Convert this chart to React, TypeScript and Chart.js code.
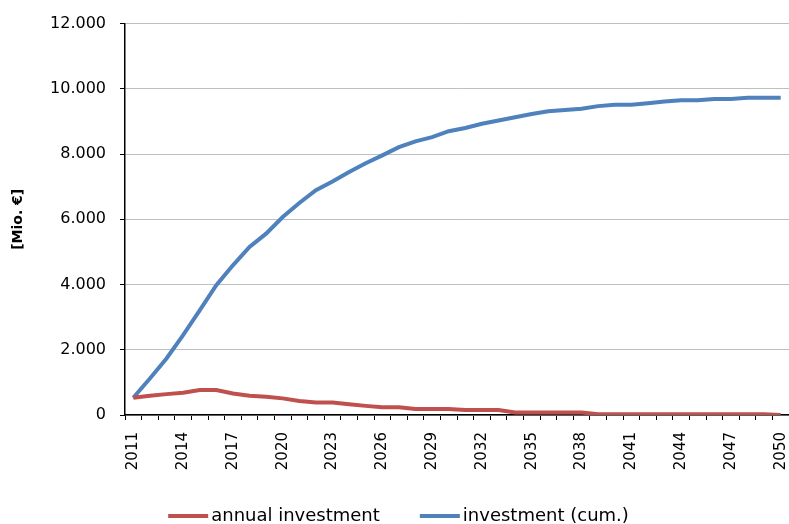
import React, { useEffect, useRef } from "react";
import { Chart, registerables } from "chart.js";

Chart.register(...registerables);

const years: string[] = [];
for (let y = 2011; y <= 2050; y++) years.push(String(y));

const annualInvestment = [
  530, 590, 640, 680, 765, 765, 660, 590, 560, 510,
  430, 380, 380, 330, 280, 235, 235, 185, 185, 185,
  150, 150, 150, 80, 80, 80, 80, 80, 20, 20,
  20, 20, 20, 20, 20, 20, 20, 20, 20, 0,
];

const cumInvestment = [
  530, 1120, 1735, 2450, 3210, 3980, 4590, 5150, 5560, 6070,
  6500, 6890, 7160, 7450, 7720, 7960, 8210, 8390, 8520, 8700,
  8800, 8930, 9030, 9130, 9230, 9310, 9350, 9390, 9470, 9510,
  9510, 9560, 9610, 9650, 9650, 9690, 9690, 9730, 9730, 9730,
];

const yTicks = [0, 2000, 4000, 6000, 8000, 10000, 12000];

const FONT = "'DejaVu Sans', sans-serif";

function fmt(v: number): string {
  return String(v).replace(/\B(?=(\d{3})+(?!\d))/g, ".");
}

const bottomLegend = {
  id: "bottomLegend",
  afterDraw(chart: any) {
    const ctx = chart.ctx;
    const items = chart.data.datasets.map((d: any) => ({ text: d.label, color: d.borderColor }));
    const lineW = 40;
    const gapText = 3;
    const gapItem = 40;
    ctx.save();
    ctx.font = `18px ${FONT}`;
    const widths = items.map((it: any) => ctx.measureText(it.text).width);
    let total = 0;
    items.forEach((_: any, i: number) => {
      total += lineW + gapText + widths[i];
      if (i < items.length - 1) total += gapItem;
    });
    let x = chart.width / 2 + 4 - total / 2;
    const y = 516;
    items.forEach((it: any, i: number) => {
      ctx.strokeStyle = it.color;
      ctx.lineWidth = 4;
      ctx.lineCap = "butt";
      ctx.beginPath();
      ctx.moveTo(x, y);
      ctx.lineTo(x + lineW, y);
      ctx.stroke();
      x += lineW + gapText;
      ctx.fillStyle = "#000";
      ctx.textBaseline = "middle";
      ctx.textAlign = "left";
      ctx.fillText(it.text, x, y);
      x += widths[i] + gapItem;
    });
    ctx.restore();
  },
};

export default function App() {
  const ref = useRef<HTMLCanvasElement | null>(null);

  useEffect(() => {
    if (!ref.current) return;
    const chart = new Chart(ref.current, {
      type: "line",
      data: {
        labels: years,
        datasets: [
          {
            label: "annual investment",
            data: annualInvestment,
            borderColor: "#C0504D",
            backgroundColor: "#C0504D",
            borderWidth: 4,
            pointRadius: 0,
            tension: 0,
          },
          {
            label: "investment (cum.)",
            data: cumInvestment,
            borderColor: "#4F81BD",
            backgroundColor: "#4F81BD",
            borderWidth: 4,
            pointRadius: 0,
            tension: 0,
          },
        ],
      },
      plugins: [bottomLegend],
      options: {
        responsive: false,
        animation: false,
        layout: { padding: { top: 23, right: 0, bottom: 22, left: 0 } },
        plugins: {
          tooltip: { enabled: false },
          legend: { display: false },
        },
        scales: {
          x: {
            offset: true,
            afterFit: (s: any) => {
              s.height = 87;
              s.paddingRight = 0;
              s.paddingLeft = 0;
            },
            grid: {
              offset: true,
              drawOnChartArea: false,
              drawTicks: true,
              tickLength: 5,
              tickColor: "#000",
            },
            border: { color: "#000", width: 1.5 },
            ticks: {
              autoSkip: false,
              maxRotation: 90,
              minRotation: 90,
              padding: 12,
              color: "#000",
              font: { family: FONT, size: 15 },
              callback: (_v: any, i: number) => (i % 3 === 0 ? years[i] : ""),
            },
          },
          y: {
            min: 0,
            max: 12000,
            afterFit: (s: any) => {
              s.width = 125;
            },
            afterBuildTicks: (s: any) => {
              s.ticks = yTicks.map((v) => ({ value: v }));
            },
            grid: {
              color: "#BFBFBF",
              lineWidth: 1,
              tickLength: 5,
              tickColor: "#000",
            },
            border: { color: "#000", width: 1.5 },
            ticks: {
              padding: 14,
              color: "#000",
              font: { family: FONT, size: 16 },
              callback: (v: any) => fmt(Number(v)),
            },
            title: {
              display: true,
              text: "[Mio. €]",
              color: "#000",
              font: { family: FONT, size: 14, weight: "bold" },
              padding: { top: 10, bottom: 0 },
            },
          },
        },
      },
    });
    return () => chart.destroy();
  }, []);

  return (
    <div style={{ position: "fixed", left: 0, top: 0, width: 789, height: 524, background: "#fff" }}>
      <canvas ref={ref} width={789} height={524} />
    </div>
  );
}
